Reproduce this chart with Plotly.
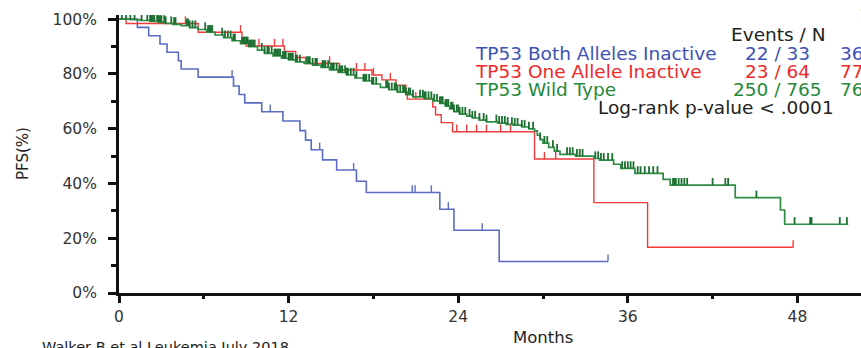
import numpy as np
import plotly.graph_objects as go

# ---- Kaplan-Meier step data (months, PFS %) ----
both_t = [0, 1.3, 2.1, 2.9, 3.4, 4.2, 4.4, 5.6, 8.1, 8.5, 8.9, 10.1, 11.6, 12.8,
          13.2, 13.6, 14.4, 15.4, 16.8, 17.5, 22.7, 23.7, 26.9]
both_s = [100, 97.0, 93.9, 90.9, 87.9, 84.8, 81.8, 78.8, 75.6, 72.5, 69.4, 66.2,
          62.8, 59.3, 55.8, 52.3, 48.6, 44.9, 40.8, 36.7, 30.6, 22.9, 11.5]
both_end = 34.6
both_cens = [8.0, 10.7, 14.2, 16.6, 20.75, 20.95, 22.1, 23.3, 25.7, 34.6]

one_t = [0, 0.5, 5.6, 8.7, 9.0, 11.7, 12.5, 13.2, 15.6, 17.9, 18.6, 19.6, 20.3,
         20.4, 22.2, 22.4, 22.8, 23.6, 29.4, 33.6, 37.4]
one_s = [100, 98.4, 95.2, 92.0, 90.2, 88.2, 86.0, 83.8, 81.4, 79.6, 77.8, 75.9,
         73.4, 70.8, 67.9, 65.1, 62.2, 58.9, 48.9, 33.0, 16.7]
one_end = 47.7
one_cens = [4.7, 8.6, 9.9, 11.0, 11.6, 14.9, 16.8, 17.4, 18.0, 19.2, 21.0, 23.9,
            24.6, 25.3, 26.0, 27.0, 27.7, 30.1, 30.9, 47.7]

wild_t = [0, 0.8, 1.5, 2.2, 2.8, 3.3, 3.8, 4.4, 5.0, 5.6, 6.2, 6.8, 7.4, 8.0, 8.6,
          9.2, 9.8, 10.3, 10.9, 11.5, 12.0, 12.5, 13.1, 13.7, 14.3, 14.9, 15.5,
          16.1, 16.7, 17.3, 17.9, 18.5, 19.1, 19.7, 20.3, 20.8, 21.6, 22.2, 22.7,
          23.1, 23.4, 23.7, 24.1, 24.6, 25.0, 25.5, 26.0, 26.8, 27.4, 27.9, 28.5,
          29.0, 29.4, 29.6, 29.8, 30.0, 30.4, 30.8, 31.2, 32.3, 33.6, 34.0, 35.0,
          35.5, 36.5, 38.5, 39.0, 43.6, 46.8, 47.1]
wild_s = [100, 99.8, 99.5, 99.2, 98.8, 98.4, 98.1, 97.6, 96.9, 96.2, 95.2, 94.2,
          93.2, 92.1, 91.0, 89.9, 88.7, 87.5, 86.6, 85.7, 85.1, 84.4, 83.8, 83.2,
          82.4, 81.5, 80.5, 79.6, 78.5, 77.4, 76.3, 75.1, 74.2, 73.3, 72.4, 71.6,
          71.0, 70.1, 69.2, 68.2, 67.2, 66.2, 65.3, 64.6, 63.9, 63.1, 62.5, 62.0,
          61.6, 61.3, 60.6, 59.9, 59.2, 57.6, 56.0, 54.7, 53.2, 51.8, 50.6, 50.0,
          49.1, 48.5, 47.0, 45.5, 43.7, 41.5, 39.4, 34.8, 30.3, 25.1]
wild_end = 51.6
wild_cens = [0.2, 0.5, 0.8, 1.1, 1.6, 2.0, 2.2, 2.3, 2.4, 2.5, 2.7, 2.8, 2.9, 3.0,
             3.2, 3.3, 3.7, 3.9, 4.0, 4.8, 4.9, 5.0, 5.2, 5.4, 6.1, 6.3, 6.4, 6.5,
             6.6, 7.3, 7.5, 7.7, 7.9, 8.1, 8.2, 8.7, 8.8, 8.9, 9.0, 9.1, 9.2, 9.3,
             9.4, 9.5, 9.6, 10.1, 10.3, 10.5, 10.6, 10.8, 11.0, 11.1, 11.2, 11.3,
             11.4, 11.6, 11.7, 11.8, 12.0, 12.1, 12.2, 12.3, 12.5, 12.6, 12.8, 13.3,
             13.4, 13.5, 13.7, 13.9, 14.0, 14.4, 14.5, 14.6, 14.8, 15.0, 15.1, 15.2,
             15.4, 15.6, 15.7, 15.8, 16.0, 16.1, 16.2, 16.4, 16.6, 16.8, 17.3, 17.4,
             17.5, 17.7, 17.9, 18.0, 18.2, 18.9, 19.0, 19.1, 19.3, 19.5, 19.6, 19.7,
             19.9, 20.1, 20.2, 20.3, 20.5, 20.6, 20.8, 21.3, 21.5, 21.6, 21.7, 21.9,
             22.1, 22.3, 22.5, 22.7, 22.8, 22.9, 23.1, 23.2, 23.3, 23.5, 23.6, 23.7,
             23.9, 24.0, 24.1, 24.3, 24.5, 24.8, 25.0, 25.2, 25.5, 25.8, 26.0, 26.7,
             26.9, 27.1, 27.3, 27.5, 27.8, 28.0, 28.2, 28.5, 28.7, 29.0, 29.3, 29.8,
             30.1, 30.3, 30.7, 31.0, 31.7, 31.9, 32.1, 32.4, 32.6, 32.8, 33.7, 33.9,
             34.1, 34.3, 34.6, 34.9, 35.6, 35.8, 36.0, 36.2, 36.4, 36.7, 36.9, 37.2,
             37.5, 37.8, 38.1, 39.2, 39.3, 39.4, 39.6, 39.8, 40.0, 40.2, 42.0, 42.9,
             43.1, 45.1, 47.8, 48.9, 49.0, 51.0, 51.5]

x_ticks = [0, 12, 24, 36, 48]
y_ticks = [0, 20, 40, 60, 80, 100]
y_labels = ["0%", "20%", "40%", "60%", "80%", "100%"]

BLUE = "#5b6cc2"
RED = "#f23a3a"
GREEN = "#2f8c45"
GREEN_TICK = "#1c6f30"
TICK_H = 2.6  # censor mark height in PFS %


def step_xy(t, s, end):
    return list(t) + [end], list(s) + [s[-1]]


def censor_xy(t, s, cens):
    xs, ys = [], []
    for c in cens:
        i = int(np.searchsorted(t, c, side="right")) - 1
        v = s[i]
        xs += [c, c, None]
        ys += [v, v + TICK_H, None]
    return xs, ys


fig = go.Figure()

for t, s, end, cens, col, tcol, w, tw in [
    (both_t, both_s, both_end, both_cens, BLUE, BLUE, 1.6, 1.4),
    (one_t, one_s, one_end, one_cens, RED, RED, 1.4, 1.4),
    (wild_t, wild_s, wild_end, wild_cens, GREEN, GREEN_TICK, 1.7, 1.8),
]:
    sx, sy = step_xy(t, s, end)
    fig.add_trace(go.Scatter(x=sx, y=sy, mode="lines", line=dict(color=col, width=w, shape="hv"),
                             hoverinfo="skip"))
    cx, cy = censor_xy(t, s, cens)
    fig.add_trace(go.Scatter(x=cx, y=cy, mode="lines", line=dict(color=tcol, width=tw),
                             hoverinfo="skip"))

FONT = "DejaVu Sans"
L, T, PW, PH = 119, 15, 742, 278


def px(x):
    return (x - L) / PW


def py(y):
    return (T + PH - y) / PH


def note(text, x, y, color="#222222", size=18.5, xanchor="left", angle=0):
    fig.add_annotation(text=text, x=px(x), y=py(y), xref="paper", yref="paper",
                       xanchor=xanchor, yanchor="middle", showarrow=False, textangle=angle,
                       font=dict(family=FONT, size=size, color=color))


note("1", 857, 16)
note("Events / N", 777.5, 34, xanchor="center")
rows = [
    ("TP53 Both Alleles Inactive", "22 / 33", "36", "#3d52b5", 53),
    ("TP53 One Allele Inactive", "23 / 64", "77", "#ee2a2a", 71),
    ("TP53 Wild Type", "250 / 765", "76", "#25883b", 89),
]
for label, ev, pct, col, yy in rows:
    note(label, 473, yy, color=col)
    note(ev, 777.5, yy, color=col, xanchor="center")
    note(pct, 838, yy, color=col)
note("Log-rank p-value < .0001", 716, 107.5, xanchor="center")
note("Months", 543, 337, size=16.5, xanchor="center")
note("PFS(%)", 23, 154, size=15, xanchor="center", angle=-90)
note("Walker B et al Leukemia July 2018", 40, 347, size=14.5)

axis_font = dict(family=FONT, size=15.5, color="#333333")
fig.update_layout(
    width=861, height=348,
    margin=dict(l=L, r=0, t=T, b=348 - T - PH),
    paper_bgcolor="white", plot_bgcolor="white",
    showlegend=False,
    xaxis=dict(range=[0, 52.5], tickvals=x_ticks, ticks="outside", ticklen=7, tickwidth=2.5,
               tickcolor="#111111", showline=True, linewidth=3, linecolor="#111111",
               showgrid=False, zeroline=False, tickfont=axis_font,
               minor=dict(tickvals=[6, 18, 30, 42], ticks="outside", ticklen=3, tickwidth=2.5,
                          tickcolor="#111111")),
    yaxis=dict(range=[0, 101.5], tickvals=y_ticks, ticktext=y_labels, ticks="outside",
               ticklen=8, tickwidth=2.5, tickcolor="#111111", showline=True, linewidth=3,
               linecolor="#111111", showgrid=False, zeroline=False, tickfont=axis_font,
               ticklabelstandoff=8,
               minor=dict(tickvals=[10, 30, 50, 70, 90], ticks="outside", ticklen=5,
                          tickwidth=2.5, tickcolor="#111111")),
)

fig.write_html("out.html")
